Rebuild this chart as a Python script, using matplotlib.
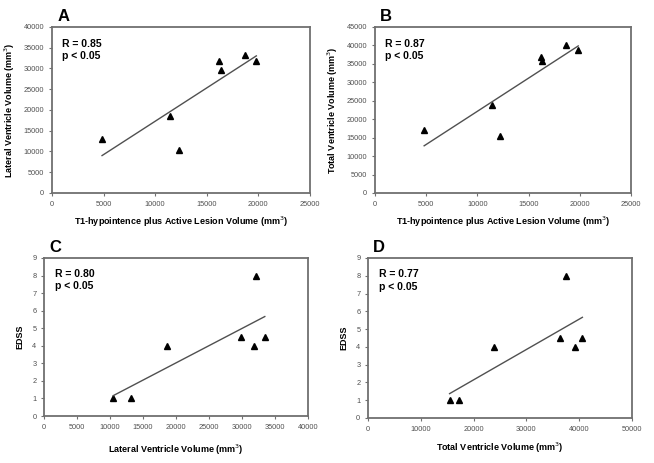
import numpy as np
import matplotlib
matplotlib.use("Agg")
import matplotlib.pyplot as plt

plt.rcParams['font.family'] = ['Liberation Sans', 'DejaVu Sans']

# Panel A
lesion_a = [4850, 11400, 12300, 16200, 16350, 18700, 19800]
lateral_a = [13100, 18600, 10400, 31800, 29700, 33300, 31700]
# Panel B
lesion_b = [4800, 11400, 12200, 16200, 16350, 18700, 19850]
total_b = [17100, 23800, 15400, 37000, 35900, 40200, 38700]
# Panel C
lateral_c = [10500, 13250, 18700, 29900, 32050, 31800, 33450]
edss_c = [1, 1, 4, 4.5, 8, 4, 4.5]
# Panel D
total_d = [15450, 17150, 23900, 36400, 37500, 39150, 40600]
edss_d = [1, 1, 4, 4.5, 8, 4, 4.5]

panels = [
    dict(letter='A', x=lesion_a, y=lateral_a, r='R = 0.85',
         xlabel='T1-hypointence plus Active Lesion Volume (mm$^3$)',
         ylabel='Lateral Ventricle Volume (mm$^3$)',
         xlim=(0, 25000), xstep=5000, ylim=(0, 40000), ystep=5000,
         rect=[0.0795, 0.5832, 0.3945, 0.3585], xpad=5, ypad=5),
    dict(letter='B', x=lesion_b, y=total_b, r='R = 0.87',
         xlabel='T1-hypointence plus Active Lesion Volume (mm$^3$)',
         ylabel='Total Ventricle Volume (mm$^3$)',
         xlim=(0, 25000), xstep=5000, ylim=(0, 45000), ystep=5000,
         rect=[0.5734, 0.5832, 0.3914, 0.3585], xpad=5, ypad=5),
    dict(letter='C', x=lateral_c, y=edss_c, r='R = 0.80',
         xlabel='Lateral Ventricle Volume (mm$^3$)',
         ylabel='EDSS',
         xlim=(0, 40000), xstep=5000, ylim=(0, 9), ystep=1,
         rect=[0.0673, 0.1015, 0.4037, 0.3413], xpad=8.5, ypad=6),
    dict(letter='D', x=total_d, y=edss_d, r='R = 0.77',
         xlabel='Total Ventricle Volume (mm$^3$)',
         ylabel='EDSS',
         xlim=(0, 50000), xstep=10000, ylim=(0, 9), ystep=1,
         rect=[0.5627, 0.0972, 0.4037, 0.3456], xpad=5.5, ypad=6),
]

fig = plt.figure(figsize=(6.54, 4.63), dpi=100)
spine_col = '#707070'
tick_col = '#505050'

for p in panels:
    ax = fig.add_axes(p['rect'])
    x = np.array(p['x'], dtype=float)
    y = np.array(p['y'], dtype=float)
    ax.plot(x, y, linestyle='none', marker='^', color='black', markersize=5)
    k, b = np.polyfit(x, y, 1)
    xs = np.array([x.min(), x.max()])
    ax.plot(xs, k * xs + b, color='#505050', linewidth=1.0)
    ax.set_xlim(*p['xlim'])
    ax.set_ylim(*p['ylim'])
    ax.set_xticks(np.arange(p['xlim'][0], p['xlim'][1] + 1, p['xstep']))
    ax.set_yticks(np.arange(p['ylim'][0], p['ylim'][1] + 0.001, p['ystep']))
    ax.tick_params(axis='both', direction='out', length=2.5, width=0.8,
                   colors=spine_col, labelsize=5.3, labelcolor=tick_col, pad=3)
    for s in ax.spines.values():
        s.set_color(spine_col)
        s.set_linewidth(1.3)
    ax.set_xlabel(p['xlabel'], fontsize=6.5, fontweight='bold', labelpad=p['xpad'])
    ax.set_ylabel(p['ylabel'], fontsize=6.5, fontweight='bold', labelpad=p['ypad'])
    ax.text(0.04, 0.93, p['r'] + '\np < 0.05', transform=ax.transAxes,
            fontsize=7.5, fontweight='bold', va='top', ha='left', linespacing=1.3)
    ax.text(0.02, 1.02, p['letter'], transform=ax.transAxes,
            fontsize=12, fontweight='bold', va='bottom', ha='left')

fig.savefig('out.png', dpi=100)
